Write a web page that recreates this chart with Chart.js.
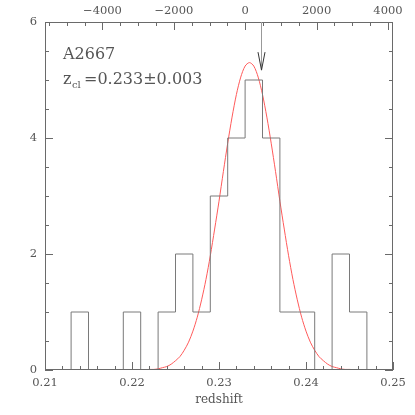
<!DOCTYPE html>
<html>
<head>
<meta charset="utf-8">
<script src="https://cdn.jsdelivr.net/npm/chart.js@4"></script>
<style>
  html, body { margin: 0; padding: 0; background: #fff; }
  #wrap { width: 415px; height: 415px; }
</style>
</head>
<body>
<div id="wrap"><canvas id="zHist" width="415" height="415"></canvas></div>
<script>
// histogram of cluster member redshifts (bin width 0.002)
const binEdges = [0.211, 0.213, 0.215, 0.217, 0.219, 0.221, 0.223, 0.225, 0.227, 0.229,
                  0.231, 0.233, 0.235, 0.237, 0.239, 0.241, 0.243, 0.245, 0.247, 0.249];
const binCounts = [0, 1, 0, 0, 1, 0, 1, 2, 1, 3, 4, 5, 4, 1, 1, 0, 2, 1, 0];

// gaussian fit
const fitZ = [0.221, 0.222, 0.2225, 0.223, 0.2235, 0.224, 0.2245, 0.225, 0.2255, 0.226,
              0.2265, 0.227, 0.2275, 0.228, 0.2285, 0.229, 0.2295, 0.230, 0.2305, 0.231,
              0.2315, 0.232, 0.2325, 0.233, 0.2335, 0.234, 0.2345, 0.235, 0.2355, 0.236,
              0.2365, 0.237, 0.2375, 0.238, 0.2385, 0.239, 0.2395, 0.240, 0.2405, 0.241,
              0.2415, 0.242, 0.2425, 0.243, 0.2435, 0.244, 0.2445, 0.245, 0.246];
const fitN = [0.00, 0.01, 0.01, 0.02, 0.04, 0.06, 0.10, 0.16, 0.23, 0.34,
              0.48, 0.67, 0.91, 1.21, 1.56, 1.97, 2.43, 2.91, 3.42, 3.91,
              4.36, 4.75, 5.05, 5.24, 5.30, 5.24, 5.05, 4.75, 4.36, 3.91,
              3.42, 2.91, 2.43, 1.97, 1.56, 1.21, 0.91, 0.67, 0.48, 0.34,
              0.23, 0.16, 0.10, 0.06, 0.04, 0.02, 0.01, 0.01, 0.00];

// axes
const xTickValues = [0.21, 0.22, 0.23, 0.24, 0.25];
const xTickLabels = ["0.21", "0.22", "0.23", "0.24", "0.25"];
const yTickValues = [0, 2, 4, 6];
const yTickLabels = ["0", "2", "4", "6"];
const vTickValues = [-4000, -2000, 0, 2000, 4000];
const vTickLabels = ["\u22124000", "\u22122000", "0", "2000", "4000"];
const V_MIN = -5610, V_MAX = 4140;   // km/s across 0.21..0.25

const CLUSTER = "A2667";
const Z_TEXT = "=0.233\u00b10.003";
const ARROW_Z = 0.2348;
const ARROW_TIP = 5.17;

const INK = "#555";
const FRAME = "#6a6a6a";
const FONT = "'DejaVu Serif', serif";

// inward tick marks, frame, arrow and labels
const decor = {
  id: "decor",
  afterDatasetsDraw(chart) {
    const { ctx, chartArea: a, scales } = chart;
    const x = scales.x, y = scales.y, v = scales.v;
    ctx.save();
    ctx.strokeStyle = FRAME;
    ctx.lineWidth = 1;
    ctx.beginPath();
    // bottom: redshift
    for (let i = 0; i <= 20; i++) {
      const px = Math.round(x.getPixelForValue(0.21 + i * 0.002)) + 0.5;
      const len = i % 5 === 0 ? 8 : 4;
      ctx.moveTo(px, a.bottom); ctx.lineTo(px, a.bottom - len);
    }
    // top: velocity
    for (let k = -5500; k <= 4000; k += 500) {
      const px = Math.round(v.getPixelForValue(k)) + 0.5;
      const len = k % 2000 === 0 ? 8 : 4;
      ctx.moveTo(px, a.top); ctx.lineTo(px, a.top + len);
    }
    // left/right: counts
    for (let i = 0; i <= 12; i++) {
      const py = Math.round(y.getPixelForValue(i * 0.5)) + 0.5;
      const len = i % 4 === 0 ? 8 : 4;
      ctx.moveTo(a.left, py); ctx.lineTo(a.left + len, py);
      ctx.moveTo(a.right, py); ctx.lineTo(a.right - len, py);
    }
    ctx.stroke();
    ctx.strokeRect(a.left + 0.5, a.top + 0.5, a.right - a.left - 1, a.bottom - a.top - 1);

    // arrow marking the BCG
    const ax = Math.round(x.getPixelForValue(ARROW_Z)) + 0.5;
    const tip = y.getPixelForValue(ARROW_TIP);
    ctx.strokeStyle = "#999";
    ctx.beginPath();
    ctx.moveTo(ax, a.top); ctx.lineTo(ax, tip);
    ctx.stroke();
    ctx.strokeStyle = "#333";
    ctx.beginPath();
    ctx.moveTo(ax - 3.5, tip - 18); ctx.lineTo(ax, tip); ctx.lineTo(ax + 3.5, tip - 18);
    ctx.stroke();

    // cluster label
    ctx.fillStyle = INK;
    ctx.textBaseline = "alphabetic";
    ctx.font = "16px " + FONT;
    ctx.fillText(CLUSTER, a.left + 18, 59);
    ctx.fillText("z", a.left + 18, 84);
    ctx.font = "10px " + FONT;
    ctx.fillText("cl", a.left + 27, 88);
    ctx.font = "16px " + FONT;
    ctx.fillText(Z_TEXT, a.left + 39, 84);
    ctx.restore();
  }
};

const tickFont = { family: FONT, size: 11.5 };

new Chart(document.getElementById("zHist"), {
  type: "line",
  data: {
    datasets: [
      {
        label: "counts",
        data: binEdges.map((e, i) => ({ x: e, y: binCounts[i] ?? 0 })),
        stepped: true,
        borderColor: "#7a7a7a",
        borderWidth: 1,
        pointRadius: 0,
        fill: false,
      },
      {
        label: "fit",
        data: fitZ.map((z, i) => ({ x: z, y: fitN[i] })),
        borderColor: "#ff5a5a",
        borderWidth: 1,
        tension: 0.3,
        pointRadius: 0,
        fill: false,
      },
    ],
  },
  options: {
    responsive: false,
    animation: false,
    events: [],
    layout: { padding: { left: 0, right: 22, top: 0, bottom: 0 } },
    plugins: { legend: { display: false }, tooltip: { enabled: false } },
    scales: {
      x: {
        type: "linear",
        position: "bottom",
        min: 0.21,
        max: 0.25,
        afterBuildTicks: s => { s.ticks = xTickValues.map(value => ({ value })); },
        afterFit: s => { s.height = 45; },
        ticks: {
          color: INK, font: tickFont, padding: 6, maxRotation: 0,
          callback: (val, i) => xTickLabels[i],
        },
        grid: { display: false, drawTicks: false },
        border: { display: false },
        title: {
          display: true, text: "redshift", color: INK,
          font: { family: FONT, size: 12 }, padding: { top: 0, bottom: 8 },
        },
      },
      v: {
        type: "linear",
        position: "top",
        min: V_MIN,
        max: V_MAX,
        afterBuildTicks: s => { s.ticks = vTickValues.map(value => ({ value })); },
        afterFit: s => { s.height = 22; },
        ticks: {
          color: INK, font: tickFont, padding: 4, maxRotation: 0,
          callback: (val, i) => vTickLabels[i],
        },
        grid: { display: false, drawTicks: false },
        border: { display: false },
      },
      y: {
        type: "linear",
        position: "left",
        min: 0,
        max: 6,
        afterBuildTicks: s => { s.ticks = yTickValues.map(value => ({ value })); },
        afterFit: s => { s.width = 45; },
        ticks: {
          color: INK, font: tickFont, padding: 8,
          callback: (val, i) => yTickLabels[i],
        },
        grid: { display: false, drawTicks: false },
        border: { display: false },
      },
    },
  },
  plugins: [decor],
});
</script>
</body>
</html>
